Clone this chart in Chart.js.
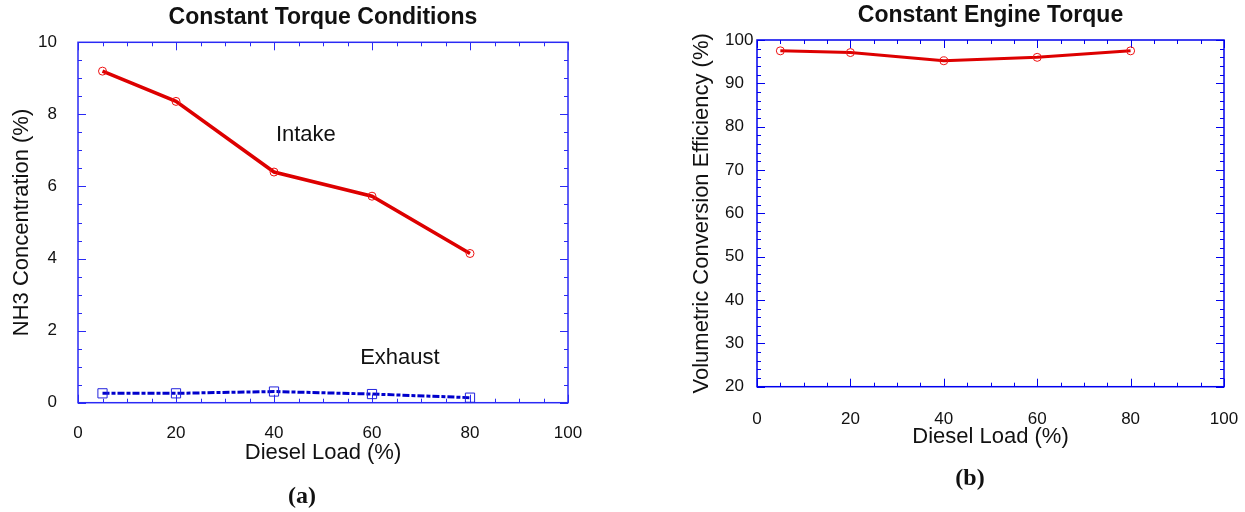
<!DOCTYPE html>
<html>
<head>
<meta charset="utf-8">
<script src="https://cdn.jsdelivr.net/npm/chart.js@4"></script>
<style>
  body { margin: 0; background: #fff; width: 1245px; height: 512px; position: relative; overflow: hidden; }
  .box { position: absolute; top: 0; height: 512px; }
  #wrapA { left: 0; width: 620px; }
  #wrapB { left: 620px; width: 625px; }
  .tag { position: absolute; font: bold 24px "Liberation Serif"; color: #111; transform: translate(-50%, -50%); }
</style>
</head>
<body>
<div class="box" id="wrapA"><canvas id="chartA"></canvas></div>
<div class="box" id="wrapB"><canvas id="chartB"></canvas></div>
<div class="tag" style="left:302px; top:495px">(a)</div>
<div class="tag" style="left:970px; top:477px">(b)</div>
<script>
// diesel load (%) at each test point
const loads = [5, 20, 40, 60, 80];
// NH3 concentration (%)
const intakeNH3 = [9.2, 8.36, 6.40, 5.73, 4.14];
const exhaustNH3 = [0.26, 0.26, 0.31, 0.24, 0.14];
// volumetric conversion efficiency (%)
const conversionEff = [97.5, 97.1, 95.2, 96.0, 97.5];

// text labels placed inside the left plot (data coordinates)
const curveNames = ["Intake", "Exhaust"];
const curveNameLoad = [46.5, 65.7];
const curveNameNH3 = [7.44, 1.25];

Chart.defaults.font.family = "Liberation Sans";
Chart.defaults.color = "#111";

function toPoints(xs, ys) {
    return xs.map(function (v, i) { return { x: v, y: ys[i] }; });
}

// box frame with inward ticks on all four sides
const frameTicks = {
    id: 'frameTicks',
    beforeDatasetsDraw(chart, args, opts) {
        const ctx = chart.ctx;
        const a = chart.chartArea;
        const x = chart.scales.x;
        const y = chart.scales.y;
        ctx.save();
        ctx.strokeStyle = opts.color;
        ctx.lineWidth = 1;
        function seg(x1, y1, x2, y2) {
            ctx.beginPath(); ctx.moveTo(x1, y1); ctx.lineTo(x2, y2); ctx.stroke();
        }
        function isMajor(v, step) {
            return Math.abs(v / step - Math.round(v / step)) < 1e-6;
        }
        for (let v = x.min; v <= x.max + 1e-9; v += opts.xMinor) {
            const len = isMajor(v, opts.xMajor) ? 8 : 4;
            const px = Math.round(x.getPixelForValue(v)) + 0.5;
            seg(px, a.bottom, px, a.bottom - len);
            seg(px, a.top, px, a.top + len);
        }
        for (let v = y.min; v <= y.max + 1e-9; v += opts.yMinor) {
            const len = isMajor(v - y.min, opts.yMajor) ? 8 : 4;
            const py = Math.round(y.getPixelForValue(v)) + 0.5;
            seg(a.left, py, a.left + len, py);
            seg(a.right, py, a.right - len, py);
        }
        ctx.lineWidth = opts.width;
        ctx.strokeRect(a.left, a.top, a.right - a.left, a.bottom - a.top);
        ctx.restore();
    }
};

const curveLabels = {
    id: 'curveLabels',
    afterDatasetsDraw(chart) {
        const ctx = chart.ctx;
        ctx.save();
        ctx.font = '22px "Liberation Sans"';
        ctx.fillStyle = '#111';
        ctx.textAlign = 'center';
        ctx.textBaseline = 'middle';
        for (let i = 0; i < curveNames.length; i++) {
            ctx.fillText(curveNames[i],
                chart.scales.x.getPixelForValue(curveNameLoad[i]),
                chart.scales.y.getPixelForValue(curveNameNH3[i]));
        }
        ctx.restore();
    }
};

function CreateLeftChart() {
    const ctx = document.getElementById('chartA');
    new Chart(ctx, {
        type: 'line',
        data: {
            datasets: [
                {
                    label: "Intake",
                    data: toPoints(loads, intakeNH3),
                    borderColor: '#dd0000',
                    borderWidth: 3.5,
                    pointStyle: 'circle',
                    pointRadius: 4,
                    pointBorderWidth: 1,
                    pointBorderColor: '#ee1111',
                    pointBackgroundColor: 'rgba(255,255,255,0)',
                },
                {
                    label: "Exhaust",
                    data: toPoints(loads, exhaustNH3),
                    borderColor: '#0000cc',
                    borderWidth: 3,
                    borderDash: [7, 2, 4, 2],
                    pointStyle: 'rect',
                    pointRadius: 6.5,
                    pointBorderWidth: 1,
                    pointBorderColor: '#2222dd',
                    pointBackgroundColor: 'rgba(255,255,255,0)',
                }
            ]
        },
        options: {
            responsive: true,
            maintainAspectRatio: false,
            animation: false,
            layout: { padding: { left: 0, right: 52, top: 0, bottom: 39.3 } },
            scales: {
                x: {
                    type: 'linear', min: 0, max: 100,
                    grid: { display: false }, border: { display: false },
                    ticks: { stepSize: 20, padding: 12, font: { size: 17 } },
                    title: { display: true, text: 'Diesel Load (%)', font: { size: 22 }, padding: { top: 0, bottom: 6.5 } },
                    afterFit: function (scale) { scale.height = 70; }
                },
                y: {
                    min: 0, max: 10,
                    grid: { display: false }, border: { display: false },
                    ticks: { stepSize: 2, padding: 13, font: { size: 17 } },
                    title: { display: true, text: 'NH3 Concentration (%)', font: { size: 22 }, padding: { top: 8.8, bottom: 0 } },
                    afterFit: function (scale) { scale.width = 78; }
                }
            },
            plugins: {
                legend: { display: false },
                tooltip: { enabled: false },
                title: {
                    display: true, fullSize: false,
                    text: 'Constant Torque Conditions',
                    font: { size: 23, weight: 'bold' },
                    color: '#111',
                    padding: { top: 3.5, bottom: 11.2 }
                },
                frameTicks: { color: '#2a2af5', width: 1.5, xMinor: 5, xMajor: 20, yMinor: 0.5, yMajor: 2 }
            }
        },
        plugins: [frameTicks, curveLabels]
    });
}

function CreateRightChart() {
    const ctx = document.getElementById('chartB');
    new Chart(ctx, {
        type: 'line',
        data: {
            datasets: [
                {
                    label: "Efficiency",
                    data: toPoints(loads, conversionEff),
                    borderColor: '#dd0000',
                    borderWidth: 3,
                    pointStyle: 'circle',
                    pointRadius: 4,
                    pointBorderWidth: 1,
                    pointBorderColor: '#ee1111',
                    pointBackgroundColor: 'rgba(255,255,255,0)',
                }
            ]
        },
        options: {
            responsive: true,
            maintainAspectRatio: false,
            animation: false,
            layout: { padding: { left: 105, right: 21, top: 0, bottom: 55.3 } },
            scales: {
                x: {
                    type: 'linear', min: 0, max: 100,
                    grid: { display: false }, border: { display: false },
                    ticks: { stepSize: 20, padding: 14, font: { size: 17 } },
                    title: { display: true, text: 'Diesel Load (%)', font: { size: 22 }, padding: { top: 0, bottom: 6.8 } },
                    afterFit: function (scale) { scale.height = 70; scale.paddingRight = 0; scale.paddingLeft = 0; }
                },
                y: {
                    min: 20, max: 100,
                    grid: { display: false }, border: { display: false },
                    ticks: { stepSize: 10, crossAlign: 'far', font: { size: 17 } },
                    title: { display: true, text: 'Volumetric Conversion Efficiency (%)', font: { size: 22 }, padding: { top: -36.2, bottom: 0 } },
                    afterFit: function (scale) { scale.width = 32; scale.paddingTop = 0; scale.paddingBottom = 0; }
                }
            },
            plugins: {
                legend: { display: false },
                tooltip: { enabled: false },
                title: {
                    display: true, fullSize: false,
                    text: 'Constant Engine Torque',
                    font: { size: 23, weight: 'bold' },
                    color: '#111',
                    padding: { top: 1.9, bottom: 10.5 }
                },
                frameTicks: { color: '#0000ee', width: 1.5, xMinor: 5, xMajor: 20, yMinor: 2, yMajor: 10 }
            }
        },
        plugins: [frameTicks]
    });
}

CreateLeftChart();
CreateRightChart();
</script>
</body>
</html>
